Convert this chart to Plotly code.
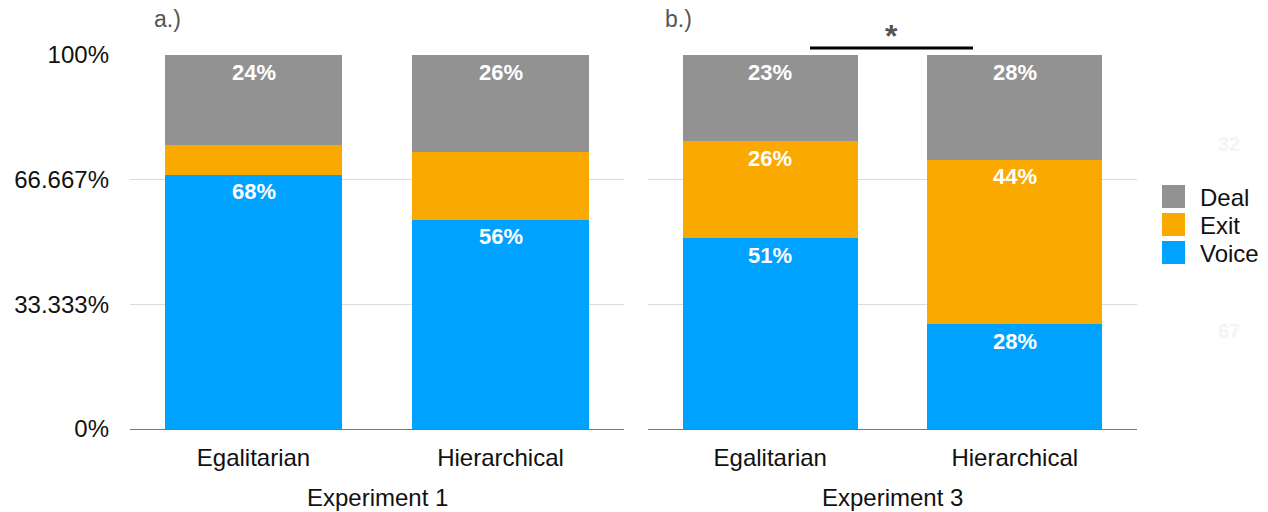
import plotly.graph_objects as go

categories = ["Egalitarian", "Hierarchical"]
exp1_voice = [68, 56]
exp1_exit = [8, 18]
exp1_deal = [24, 26]
exp3_voice = [51, 28]
exp3_exit = [26, 44]
exp3_deal = [23, 28]
exp1_voice_lbl = ["68%", "56%"]
exp1_exit_lbl = ["", ""]
exp1_deal_lbl = ["24%", "26%"]
exp3_voice_lbl = ["51%", "28%"]
exp3_exit_lbl = ["26%", "44%"]
exp3_deal_lbl = ["23%", "28%"]
ytick_vals = [0, 33.333, 66.667, 100]
ytick_text = ["0%", "33.333%", "66.667%", "100%"]
legend_names = ["Deal", "Exit", "Voice"]
faint_labels = ["32", "67"]

C_VOICE = "#00A2FF"
C_EXIT = "#FAA900"
C_DEAL = "#929292"
FONT = "Liberation Sans, Arial, sans-serif"

W, H = 1268, 512
def px(x):
    return x / W
def py(y):
    return 1 - y / H

fig = go.Figure()
panels = [
    ("x", "y", exp1_voice, exp1_exit, exp1_deal, exp1_voice_lbl, exp1_exit_lbl, exp1_deal_lbl),
    ("x2", "y2", exp3_voice, exp3_exit, exp3_deal, exp3_voice_lbl, exp3_exit_lbl, exp3_deal_lbl),
]
annotations = []
for xa, ya, v, e, d, vl, el, dl in panels:
    for name, vals, col in [("Voice", v, C_VOICE), ("Exit", e, C_EXIT), ("Deal", d, C_DEAL)]:
        fig.add_trace(go.Bar(x=categories, y=vals, name=name, marker=dict(color=col, line=dict(width=0)),
                             width=0.717, xaxis=xa, yaxis=ya, showlegend=False, hoverinfo="skip"))
    for i, c in enumerate(categories):
        tops = [v[i], v[i] + e[i], v[i] + e[i] + d[i]]
        for top, lab in zip(tops, [vl[i], el[i], dl[i]]):
            if lab:
                annotations.append(dict(x=c, y=top, xref=xa, yref=ya, text="<b>%s</b>" % lab,
                                        showarrow=False, yanchor="middle", yshift=-17,
                                        font=dict(family=FONT, size=22, color="white")))

# panel titles
annotations.append(dict(x=px(167), y=py(19), xref="paper", yref="paper", text="a.)", showarrow=False,
                        font=dict(family=FONT, size=23, color="#555555"), xanchor="center", yanchor="middle"))
annotations.append(dict(x=px(678), y=py(19), xref="paper", yref="paper", text="b.)", showarrow=False,
                        font=dict(family=FONT, size=23, color="#555555"), xanchor="center", yanchor="middle"))
annotations.append(dict(x=px(891), y=py(36), xref="paper", yref="paper", text="<b>*</b>", showarrow=False,
                        font=dict(family=FONT, size=32, color="#555555"), xanchor="center", yanchor="middle"))
# experiment titles
annotations.append(dict(x=0.5, y=py(497), xref="x domain", yref="paper", text="Experiment 1", showarrow=False,
                        font=dict(family=FONT, size=24, color="#111111"), xanchor="center", yanchor="middle"))
annotations.append(dict(x=0.5, y=py(497), xref="x2 domain", yref="paper", text="Experiment 3", showarrow=False,
                        font=dict(family=FONT, size=24, color="#111111"), xanchor="center", yanchor="middle"))
# faint labels
for lab, yy in zip(faint_labels, [144, 331]):
    annotations.append(dict(x=px(1229), y=py(yy), xref="paper", yref="paper", text="<b>%s</b>" % lab,
                            showarrow=False, font=dict(family=FONT, size=20, color="#f3f3f8"),
                            xanchor="center", yanchor="middle"))

shapes = [dict(type="line", xref="paper", yref="paper", x0=px(810), x1=px(973), y0=py(48), y1=py(48),
               line=dict(color="black", width=3))]
# custom legend
for i, (name, col) in enumerate(zip(legend_names, [C_DEAL, C_EXIT, C_VOICE])):
    top = 185 + 28 * i
    shapes.append(dict(type="rect", xref="paper", yref="paper", x0=px(1162), x1=px(1185),
                       y0=py(top + 23), y1=py(top), fillcolor=col, line=dict(width=0)))
    annotations.append(dict(x=px(1198), y=py(top + 12), xref="paper", yref="paper", text=name, showarrow=False,
                            xanchor="left", yanchor="middle", font=dict(family=FONT, size=24, color="#111111")))

axis_common = dict(range=[0, 100], tickvals=ytick_vals, showgrid=True, gridcolor="#dcdcdc", gridwidth=1,
                   zeroline=True, zerolinecolor="#777777", zerolinewidth=1, showline=False, fixedrange=True,
                   automargin=False)
fig.update_layout(
    width=W, height=H, margin=dict(l=0, r=0, t=0, b=0, autoexpand=False),
    paper_bgcolor="white", plot_bgcolor="white", barmode="stack",
    showlegend=False,
    xaxis=dict(domain=[px(130), px(624)], type="category", showline=False, ticks="", automargin=False,
               tickfont=dict(family=FONT, size=24, color="#111111"), ticklabelstandoff=12),
    xaxis2=dict(domain=[px(648), px(1137)], type="category", showline=False, ticks="", automargin=False,
                tickfont=dict(family=FONT, size=24, color="#111111"), ticklabelstandoff=12),
    yaxis=dict(domain=[py(429), py(55)], anchor="x", ticktext=ytick_text, ticks="",
               tickfont=dict(family=FONT, size=24, color="#111111"), ticklabelstandoff=20, **axis_common),
    yaxis2=dict(domain=[py(429), py(55)], anchor="x2", showticklabels=False, ticks="", **axis_common),
    annotations=annotations, shapes=shapes,
)
fig.write_html("out.html")
